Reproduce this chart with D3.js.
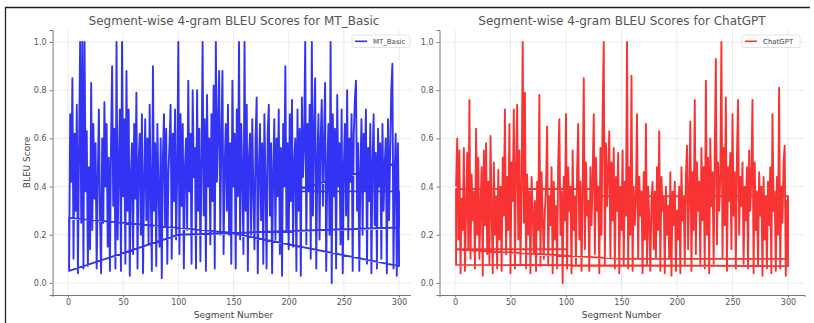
<!DOCTYPE html>
<html>
<head>
<meta charset="utf-8">
<script src="https://cdn.jsdelivr.net/npm/d3@7"></script>
<style>
  html, body { margin: 0; padding: 0; background: #fff; }
  svg { display: block; font-family: "DejaVu Sans", sans-serif; }
  .tick text { fill: #555; font-size: 8px; }
  .grid line { stroke: #e6e6e6; stroke-width: 0.8; }
</style>
</head>
<body>
<div id="app"></div>
<script>
// segment numbers 1..300
const segments = d3.range(1, 301)

// MT_Basic scores per segment
const mtBasicScores = [
  0.05, 0.70, 0.42, 0.85, 0.10, 0.62, 0.30, 0.74, 0.04, 0.55, 1.00, 0.25, 1.00, 0.06, 1.00, 0.38, 0.63, 0.07, 0.48, 0.14,
  0.83, 0.22, 0.66, 0.35, 0.58, 0.06, 0.44, 0.72, 0.28, 0.04, 0.60, 0.25, 0.75, 0.40, 0.66, 0.15, 0.52, 0.05, 0.58, 0.90,
  0.32, 0.64, 0.06, 1.00, 0.18, 0.48, 0.72, 0.05, 1.00, 0.36, 0.68, 0.08, 0.88, 0.30, 0.72, 0.03, 0.45, 0.58, 0.12, 0.66,
  0.35, 0.79, 0.06, 0.50, 0.62, 0.20, 0.70, 0.04, 0.42, 0.68, 0.26, 0.60, 0.16, 0.74, 0.38, 0.05, 0.90, 0.30, 0.58, 0.07,
  0.66, 0.40, 0.15, 0.60, 0.02, 0.52, 0.70, 0.24, 0.64, 0.08, 0.45, 0.58, 0.74, 0.10, 0.62, 0.34, 0.72, 0.18, 0.46, 1.00,
  0.12, 0.70, 0.32, 0.66, 0.06, 0.48, 0.60, 0.22, 0.84, 0.38, 0.62, 0.08, 0.80, 0.44, 0.56, 0.06, 0.80, 0.30, 0.64, 0.09,
  0.50, 1.00, 0.28, 0.68, 0.05, 0.78, 0.40, 0.60, 0.16, 0.70, 0.34, 0.82, 0.06, 1.00, 0.42, 0.64, 0.88, 0.20, 0.60, 0.88,
  0.12, 0.48, 0.66, 0.30, 0.74, 0.20, 0.58, 0.08, 0.84, 0.40, 0.62, 0.06, 0.72, 0.36, 1.00, 0.18, 0.66, 0.45, 0.12, 1.00,
  0.30, 0.74, 0.05, 0.52, 0.62, 0.20, 0.68, 0.38, 0.14, 0.60, 0.77, 0.04, 0.46, 0.66, 0.26, 0.58, 0.08, 0.70, 0.42, 0.06,
  0.62, 0.74, 0.28, 0.58, 0.04, 0.48, 0.68, 0.18, 0.60, 0.36, 0.72, 0.12, 0.56, 0.03, 0.66, 0.40, 0.90, 0.22, 0.58, 0.14,
  0.70, 0.34, 0.76, 0.15, 0.50, 0.60, 0.05, 0.72, 0.30, 0.64, 0.03, 0.77, 0.44, 0.58, 1.00, 0.16, 0.66, 0.38, 0.74, 0.10,
  1.00, 0.28, 0.62, 0.85, 0.06, 0.50, 0.70, 0.18, 0.60, 0.76, 0.32, 0.58, 0.83, 0.05, 0.46, 0.66, 0.20, 1.00, 0.00, 0.70,
  0.36, 0.64, 0.06, 0.78, 0.40, 0.58, 0.16, 0.72, 0.04, 0.48, 0.66, 0.28, 0.80, 0.18, 0.60, 0.42, 0.70, 0.05, 0.62, 0.76,
  0.84, 0.30, 0.58, 0.05, 0.46, 0.68, 0.20, 0.62, 0.38, 0.72, 0.08, 0.56, 0.34, 0.66, 0.04, 0.50, 0.70, 0.24, 0.54, 0.06,
  0.64, 0.40, 0.58, 0.10, 0.66, 0.30, 0.48, 0.60, 0.04, 0.68, 0.26, 0.55, 0.80, 0.91, 0.06, 0.44, 0.62, 0.03, 0.58, 0.16
]
// rows that come after segment 300 in the file order (the line jumps back)
const mtBasicTail = [[300, 0.07], [145, 0.21], [1, 0.27], [1, 0.05], [100, 0.20], [300, 0.23], [300, 0.38], [200, 0.38], [300, 0.50]]

// ChatGPT scores per segment
const chatgptScores = [
  0.40, 0.60, 0.18, 0.55, 0.04, 0.35, 0.22, 0.56, 0.05, 0.30, 0.54, 0.14, 0.76, 0.10, 0.45, 0.26, 0.38, 0.06, 0.64, 0.20,
  0.52, 0.10, 0.32, 0.48, 0.03, 0.55, 0.24, 0.58, 0.12, 0.42, 0.08, 0.61, 0.30, 0.04, 0.50, 0.20, 0.36, 0.06, 0.47, 0.18,
  0.40, 0.05, 0.52, 0.28, 0.72, 0.12, 0.44, 0.22, 0.66, 0.04, 0.50, 0.34, 0.72, 0.06, 0.48, 0.74, 0.18, 0.55, 0.08, 0.40,
  1.00, 0.25, 0.79, 0.06, 0.45, 0.20, 0.38, 0.04, 0.44, 0.30, 0.12, 0.34, 0.05, 0.42, 0.22, 0.78, 0.07, 0.46, 0.28, 0.10,
  0.30, 0.40, 0.65, 0.08, 0.36, 0.24, 0.48, 0.04, 0.42, 0.18, 0.32, 0.06, 0.50, 0.68, 0.20, 0.38, 0.00, 0.44, 0.26, 0.70,
  0.06, 0.48, 0.30, 0.40, 0.04, 0.55, 0.22, 0.36, 0.08, 0.46, 0.66, 0.18, 0.42, 0.05, 0.38, 0.85, 0.14, 0.50, 0.28, 0.34,
  0.05, 0.48, 0.24, 0.44, 0.70, 0.12, 0.52, 0.30, 0.40, 0.04, 0.56, 0.20, 0.70, 1.00, 0.08, 0.58, 0.32, 0.46, 0.63, 0.10,
  0.50, 0.26, 0.56, 0.06, 0.44, 0.30, 0.54, 0.04, 0.40, 0.22, 0.55, 0.08, 0.42, 0.28, 1.00, 0.06, 0.48, 0.20, 0.86, 0.05,
  0.40, 0.24, 0.36, 0.70, 0.10, 0.44, 0.28, 0.38, 0.04, 0.46, 0.18, 0.66, 0.08, 0.40, 0.26, 0.05, 0.34, 0.42, 0.14, 0.38,
  0.10, 0.48, 0.22, 0.63, 0.05, 0.44, 0.30, 0.36, 0.04, 0.40, 0.20, 0.32, 0.10, 0.46, 0.03, 0.38, 0.24, 0.42, 0.05, 0.30,
  0.18, 0.40, 0.04, 0.48, 0.26, 0.36, 0.08, 0.44, 0.57, 0.14, 0.38, 0.67, 0.05, 0.46, 0.22, 0.76, 0.12, 0.50, 0.30, 0.42,
  0.08, 0.56, 0.26, 0.48, 0.06, 0.84, 0.20, 0.52, 0.04, 0.60, 0.32, 0.46, 0.08, 0.54, 0.93, 0.16, 0.50, 0.30, 0.44, 1.00,
  0.10, 0.56, 0.24, 0.77, 0.05, 0.48, 0.34, 0.54, 0.14, 0.70, 0.28, 0.46, 0.06, 0.52, 0.76, 0.20, 0.44, 0.32, 0.50, 0.08,
  0.40, 0.26, 0.48, 0.06, 0.55, 0.30, 0.44, 0.76, 0.04, 0.50, 0.22, 0.38, 0.07, 0.46, 0.28, 0.40, 0.03, 0.44, 0.18, 0.36,
  0.06, 0.42, 0.24, 0.48, 0.04, 0.70, 0.30, 0.38, 0.05, 0.44, 0.20, 0.81, 0.06, 0.40, 0.25, 0.50, 0.57, 0.03, 0.34, 0.32
]
const chatgptTail = [[300, 0.07], [1, 0.075], [1, 0.39], [130, 0.39], [132, 0.36], [300, 0.36], [300, 0.10], [150, 0.10], [1, 0.14], [100, 0.14]]

const xTicks = [0, 50, 100, 150, 200, 250, 300]
const yTicks = [0.0, 0.2, 0.4, 0.6, 0.8, 1.0]

const W = 814, H = 323
const svg = d3.select('#app').append('svg').attr('width', W).attr('height', H)

// frame of the pasted screenshot
svg.append('line').attr('x1', 5).attr('x2', 810).attr('y1', 7.5).attr('y2', 7.5).attr('stroke', '#222').attr('stroke-width', 1.3)
svg.append('line').attr('x1', 5.5).attr('x2', 5.5).attr('y1', 7).attr('y2', H).attr('stroke', '#222').attr('stroke-width', 1.3)

const panels = [
  { name: 'MT_Basic', title: 'Segment-wise 4-gram BLEU Scores for MT_Basic', scores: mtBasicScores, tail: mtBasicTail,
    color: '#0000f0', x0: 52.6, x1: 415.5, clipL: 6, clipR: 411, titleX: 234, ylabel: true, legendX: 352 },
  { name: 'ChatGPT', title: 'Segment-wise 4-gram BLEU Scores for ChatGPT', scores: chatgptScores, tail: chatgptTail,
    color: '#f50000', x0: 439.5, x1: 804.6, clipL: 411, clipR: 814, titleX: 622, ylabel: false, legendX: 742 }
]

panels.forEach((p, i) => {
  const clipId = 'clip' + i
  svg.append('clipPath').attr('id', clipId)
    .append('rect').attr('x', p.clipL).attr('y', 8).attr('width', p.clipR - p.clipL).attr('height', H - 8)
  const g = svg.append('g').attr('clip-path', `url(#${clipId})`)

  const x = d3.scaleLinear().domain([-13.95, 314.95]).range([p.x0, p.x1])
  const y = d3.scaleLinear().domain([-0.05, 1.05]).range([295, 30])

  // grid
  const grid = g.append('g').attr('class', 'grid')
  grid.selectAll('.gx').data(xTicks).join('line')
    .attr('x1', d => x(d)).attr('x2', d => x(d)).attr('y1', 30).attr('y2', 295)
  grid.selectAll('.gy').data(yTicks).join('line')
    .attr('x1', p.x0).attr('x2', p.x1).attr('y1', d => y(d)).attr('y2', d => y(d))

  // line in file order, then the rows that jump back
  const pts = segments.map((s, k) => [s, p.scores[k]]).concat(p.tail)
  const line = d3.line().x(d => x(d[0])).y(d => y(d[1]))
  g.append('path').datum(pts)
    .attr('d', line)
    .attr('fill', 'none')
    .attr('stroke', p.color)
    .attr('stroke-opacity', 0.8)
    .attr('stroke-width', 1.9)
    .attr('stroke-linejoin', 'round')

  // axes
  const ax = g.append('g').attr('transform', 'translate(0,295)')
    .call(d3.axisBottom(x).tickValues(xTicks).tickFormat(d3.format('d')).tickSize(2).tickPadding(2))
  const ay = g.append('g').attr('transform', `translate(${p.x0},0)`)
    .call(d3.axisLeft(y).tickValues(yTicks).tickFormat(d3.format('.1f')).tickSize(3).tickPadding(3))
  ;[ax, ay].forEach(a => {
    a.select('.domain').attr('stroke', '#777').attr('stroke-width', 1)
    a.selectAll('.tick line').attr('stroke', '#777')
    a.selectAll('.tick text').attr('font-family', 'DejaVu Sans')
  })

  // title and labels
  g.append('text').attr('x', p.titleX).attr('y', 25).attr('text-anchor', 'middle')
    .attr('font-size', 12).attr('fill', '#555').text(p.title)
  g.append('text').attr('x', (x(0) + x(300)) / 2).attr('y', 318).attr('text-anchor', 'middle')
    .attr('font-size', 9).attr('fill', '#444').text('Segment Number')
  if (p.ylabel) {
    g.append('text').attr('transform', `translate(30,${y(0.5)}) rotate(-90)`).attr('text-anchor', 'middle')
      .attr('font-size', 9).attr('fill', '#444').text('BLEU Score')
  }

  // legend
  const lg = g.append('g').attr('transform', `translate(${p.legendX},35)`)
  lg.append('rect').attr('width', 58).attr('height', 12.5).attr('rx', 2)
    .attr('fill', '#fff').attr('fill-opacity', 0.85).attr('stroke', '#ddd').attr('stroke-width', 0.8)
  lg.append('line').attr('x1', 3).attr('x2', 15).attr('y1', 6.3).attr('y2', 6.3)
    .attr('stroke', p.color).attr('stroke-opacity', 0.8).attr('stroke-width', 1.6)
  lg.append('text').attr('x', 21).attr('y', 9).attr('font-size', 7).attr('fill', '#444').text(p.name)
})
</script>
</body>
</html>
